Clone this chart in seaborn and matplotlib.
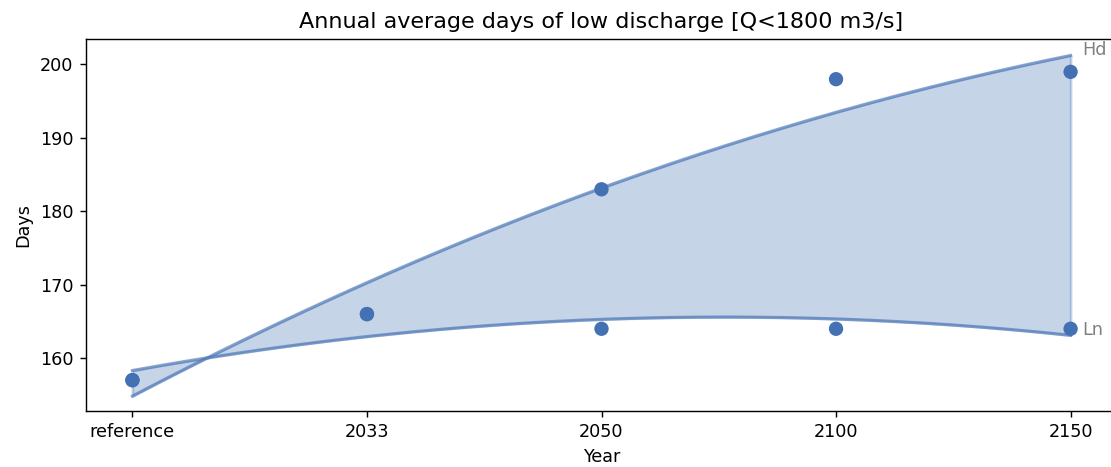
import numpy as np
import pandas as pd
import matplotlib
matplotlib.use("Agg")
import matplotlib.pyplot as plt
import seaborn as sns

# ---- data ----
categories = ["reference", "2033", "2050", "2100", "2150"]
hd_days = [157, 166, 183, 198, 199]
ln_days = [157, 166, 164, 164, 164]

DPI = 127
fig = plt.figure(figsize=(1111 / DPI, 467 / DPI), dpi=DPI)
# axes placed so that the right spine falls just outside the canvas (as in reference)
ax = fig.add_axes([85.5 / 1111, 56 / 467, (1117.5 - 85.5) / 1111, (411.5 - 39.3) / 467])

color = "#4471b3"
x = np.arange(len(categories))
xs = np.linspace(0, len(categories) - 1, 200)

fit_hd = np.polyval(np.polyfit(x, hd_days, 2), xs)
fit_ln = np.polyval(np.polyfit(x, ln_days, 2), xs)

pts = pd.DataFrame({"x": np.concatenate([x, x]),
                    "days": hd_days + ln_days})
sns.scatterplot(data=pts, x="x", y="days", color=color, s=66,
                edgecolor="none", ax=ax, zorder=3)

curves = pd.DataFrame({"x": np.concatenate([xs, xs]),
                       "days": np.concatenate([fit_hd, fit_ln]),
                       "series": ["Hd"] * len(xs) + ["Ln"] * len(xs)})
sns.lineplot(data=curves, x="x", y="days", units="series", estimator=None,
             color=color, alpha=0.6, linewidth=1.8, ax=ax, legend=False)
ax.fill_between(xs, fit_ln, fit_hd, color=color, alpha=0.3, linewidth=1.5)

ax.text(x[-1] + 0.05, fit_hd[-1] + 0.7, "Hd", color="gray", va="center", ha="left")
ax.text(x[-1] + 0.05, ln_days[-1] - 0.2, "Ln", color="gray", va="center", ha="left")

ax.set_xticks(x)
ax.set_xticklabels(categories)
ax.set_xlim(-0.2, 4.2)
ax.set_ylim(152.8, 203.5)
ax.set_yticks([160, 170, 180, 190, 200])
ax.spines["right"].set_visible(False)
ax.set_xlabel("Year")
ax.set_ylabel("Days")
ax.set_title("Annual average days of low discharge [Q<1800 m3/s]", fontsize=12.6)

fig.savefig("out.png", dpi=DPI)
